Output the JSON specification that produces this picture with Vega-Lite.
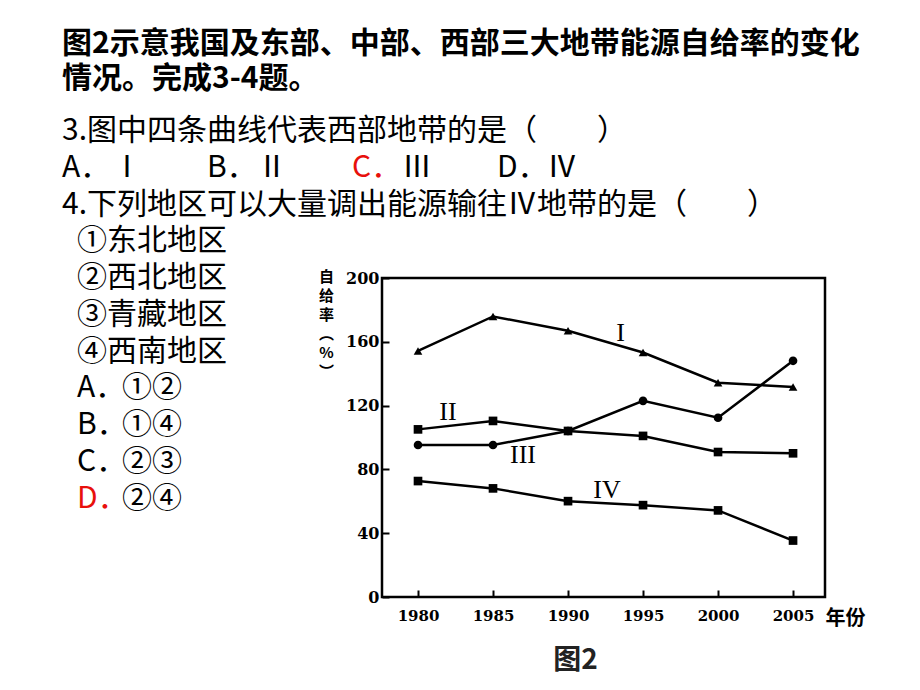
{
  "$schema": "https://vega.github.io/schema/vega-lite/v6.json",
  "background": "white",
  "padding": {"left": 62, "top": 29, "right": 4, "bottom": 4},
  "bounds": "flush",
  "spacing": 0,
  "config": {"view": {"stroke": null}, "font": "Noto Sans CJK SC"},
  "datasets": {
    "series": [
      {"series": "I", "year": 1980, "value": 154.3},
      {"series": "I", "year": 1985, "value": 175.9},
      {"series": "I", "year": 1990, "value": 166.9},
      {"series": "I", "year": 1995, "value": 153.3},
      {"series": "I", "year": 2000, "value": 134.4},
      {"series": "I", "year": 2005, "value": 131.7},
      {"series": "II", "year": 1980, "value": 105.1},
      {"series": "II", "year": 1985, "value": 110.4},
      {"series": "II", "year": 1990, "value": 104.1},
      {"series": "II", "year": 1995, "value": 101.0},
      {"series": "II", "year": 2000, "value": 90.9},
      {"series": "II", "year": 2005, "value": 90.1},
      {"series": "III", "year": 1980, "value": 95.3},
      {"series": "III", "year": 1985, "value": 95.3},
      {"series": "III", "year": 1990, "value": 104.1},
      {"series": "III", "year": 1995, "value": 123.0},
      {"series": "III", "year": 2000, "value": 112.4},
      {"series": "III", "year": 2005, "value": 148.1},
      {"series": "IV", "year": 1980, "value": 72.7},
      {"series": "IV", "year": 1985, "value": 68.1},
      {"series": "IV", "year": 1990, "value": 60.1},
      {"series": "IV", "year": 1995, "value": 57.6},
      {"series": "IV", "year": 2000, "value": 54.3},
      {"series": "IV", "year": 2005, "value": 35.4}
    ],
    "labels": [
      {"label": "I", "year": 1993.5, "value": 165.6},
      {"label": "II", "year": 1982.0, "value": 115.8},
      {"label": "III", "year": 1987.0, "value": 88.9},
      {"label": "IV", "year": 1992.6, "value": 66.9}
    ]
  },
  "vconcat": [
    {
      "width": 800,
      "height": 110,
      "title": {
        "text": ["图2示意我国及东部、中部、西部三大地带能源自给率的变化", "情况。完成3-4题。"],
        "anchor": "start",
        "fontSize": 30,
        "fontWeight": "bold",
        "font": "Noto Sans CJK SC",
        "lineHeight": 35,
        "color": "black",
        "offset": 19
      },
      "layer": [
        {
          "data": {"values": [
            {"row": "q3", "text": "3.图中四条曲线代表西部地带的是（　　）"},
            {"row": "q4", "text": "4.下列地区可以大量调出能源输往Ⅳ地带的是（　　）"}
          ]},
          "mark": {"type": "text", "align": "left", "baseline": "middle", "fontSize": 30, "color": "black"},
          "encoding": {
            "x": {"value": 0},
            "y": {"field": "row", "type": "nominal", "scale": {"domain": ["q3", "opt", "q4"]}, "axis": null},
            "text": {"field": "text"}
          }
        },
        {
          "data": {"values": [
            {"row": "opt", "opt": "A", "letter": "A．", "numeral": "Ⅰ", "answer": "no"},
            {"row": "opt", "opt": "B", "letter": "B．", "numeral": "Ⅱ", "answer": "no"},
            {"row": "opt", "opt": "C", "letter": "C．", "numeral": "Ⅲ", "answer": "yes"},
            {"row": "opt", "opt": "D", "letter": "D．", "numeral": "Ⅳ", "answer": "no"}
          ]},
          "layer": [
            {
              "mark": {"type": "text", "align": "left", "baseline": "middle", "fontSize": 30},
              "encoding": {
                "x": {"field": "opt", "type": "nominal", "scale": {"domain": ["A", "B", "C", "D"], "range": [0, 435], "padding": 0}, "axis": null},
                "y": {"field": "row", "type": "nominal", "axis": null},
                "text": {"field": "letter"},
                "color": {"field": "answer", "type": "nominal", "scale": {"domain": ["no", "yes"], "range": ["#000000", "#e8100c"]}, "legend": null}
              }
            },
            {
              "mark": {"type": "text", "align": "left", "baseline": "middle", "fontSize": 30, "dx": 50, "color": "black"},
              "encoding": {
                "x": {"field": "opt", "type": "nominal", "axis": null},
                "y": {"field": "row", "type": "nominal", "axis": null},
                "text": {"field": "numeral"}
              }
            }
          ]
        }
      ]
    },
    {
      "bounds": "flush",
      "spacing": 15,
      "hconcat": [
        {
          "width": 305,
          "height": 294,
          "layer": [
            {
              "data": {"values": [
                {"row": "①", "text": "①东北地区"},
                {"row": "②", "text": "②西北地区"},
                {"row": "③", "text": "③青藏地区"},
                {"row": "④", "text": "④西南地区"}
              ]},
              "mark": {"type": "text", "align": "left", "baseline": "middle", "fontSize": 30, "color": "black"},
              "encoding": {
                "x": {"value": 15},
                "y": {"field": "row", "type": "nominal", "scale": {"domain": ["①", "②", "③", "④", "A", "B", "C", "D"]}, "axis": null},
                "text": {"field": "text"}
              }
            },
            {
              "data": {"values": [
                {"row": "A", "letter": "A．", "body": "①②", "answer": "no"},
                {"row": "B", "letter": "B．", "body": "①④", "answer": "no"},
                {"row": "C", "letter": "C．", "body": "②③", "answer": "no"},
                {"row": "D", "letter": "D．", "body": "②④", "answer": "yes"}
              ]},
              "layer": [
                {
                  "mark": {"type": "text", "align": "left", "baseline": "middle", "fontSize": 30},
                  "encoding": {
                    "x": {"value": 15},
                    "y": {"field": "row", "type": "nominal", "axis": null},
                    "text": {"field": "letter"},
                    "color": {"field": "answer", "type": "nominal", "scale": {"domain": ["no", "yes"], "range": ["#000000", "#e8100c"]}, "legend": null}
                  }
                },
                {
                  "mark": {"type": "text", "align": "left", "baseline": "middle", "fontSize": 30, "color": "black"},
                  "encoding": {
                    "x": {"value": 60},
                    "y": {"field": "row", "type": "nominal", "axis": null},
                    "text": {"field": "body"}
                  }
                }
              ]
            }
          ]
        },
        {
          "width": 443,
          "height": 374,
          "title": {
            "text": "图2",
            "orient": "bottom",
            "anchor": "middle",
            "dx": -28,
            "offset": 19,
            "fontSize": 28,
            "fontWeight": "bold",
            "font": "Noto Sans CJK SC",
            "color": "#222222"
          },
          "layer": [
            {
              "data": {"values": [{}]},
              "mark": {"type": "rect", "filled": false, "stroke": "black", "strokeWidth": 2.5},
              "encoding": {
                "x": {"datum": 1977.6},
                "x2": {"datum": 2007.13},
                "y": {"datum": 200},
                "y2": {"datum": 0}
              }
            },
            {
              "data": {"name": "series"},
              "mark": {"type": "line", "color": "black", "strokeWidth": 2.5},
              "encoding": {
                "x": {
                  "field": "year", "type": "quantitative",
                  "scale": {"domain": [1977.6, 2007.13], "nice": false, "zero": false},
                  "axis": {
                    "values": [1980, 1985, 1990, 1995, 2000, 2005],
                    "format": "d",
                    "grid": false,
                    "domain": false,
                    "tickColor": "black",
                    "tickWidth": 2,
                    "tickSize": -7,
                    "labelPadding": 18,
                    "labelFont": "DejaVu Serif",
                    "labelFontSize": 15,
                    "labelFontWeight": "bold",
                    "labelColor": "black",
                    "title": "年份",
                    "titleFont": "Noto Sans CJK SC",
                    "titleFontSize": 20,
                    "titleFontWeight": "bold",
                    "titleColor": "black",
                    "titleX": 463,
                    "titleY": 21,
                    "titleAlign": "center",
                    "titleBaseline": "middle"
                  }
                },
                "y": {
                  "field": "value", "type": "quantitative",
                  "scale": {"domain": [0, 234.5], "nice": false, "zero": true},
                  "axis": {
                    "values": [0, 20, 40, 60, 80, 100, 120, 140, 160, 180, 200],
                    "labelExpr": "datum.value % 40 === 0 ? datum.label : ''",
                    "grid": false,
                    "domain": false,
                    "tickColor": "black",
                    "tickWidth": 2,
                    "tickSize": -7,
                    "labelPadding": 10,
                    "labelFont": "DejaVu Serif",
                    "labelFontSize": 16,
                    "labelFontWeight": "bold",
                    "labelColor": "black",
                    "title": ["自", "给", "率", "︵", "%", "︶"],
                    "titleAngle": 0,
                    "titleFont": "Noto Sans CJK SC",
                    "titleFontSize": 15,
                    "titleFontWeight": "bold",
                    "titleColor": "black",
                    "titleLineHeight": 19,
                    "titleAlign": "center",
                    "titleBaseline": "top",
                    "titleX": -56,
                    "titleY": 46
                  }
                },
                "detail": {"field": "series"}
              }
            },
            {
              "data": {"name": "series"},
              "mark": {"type": "point", "filled": true, "color": "black", "size": 75, "opacity": 1},
              "encoding": {
                "x": {"field": "year", "type": "quantitative"},
                "y": {"field": "value", "type": "quantitative"},
                "shape": {"field": "series", "type": "nominal", "scale": {"domain": ["I", "II", "III", "IV"], "range": ["triangle-up", "square", "circle", "square"]}, "legend": null}
              }
            },
            {
              "data": {"name": "labels"},
              "mark": {"type": "text", "font": "Liberation Serif", "fontSize": 26, "color": "black", "align": "center", "baseline": "middle"},
              "encoding": {
                "x": {"field": "year", "type": "quantitative"},
                "y": {"field": "value", "type": "quantitative"},
                "text": {"field": "label"}
              }
            }
          ]
        }
      ]
    }
  ]
}
